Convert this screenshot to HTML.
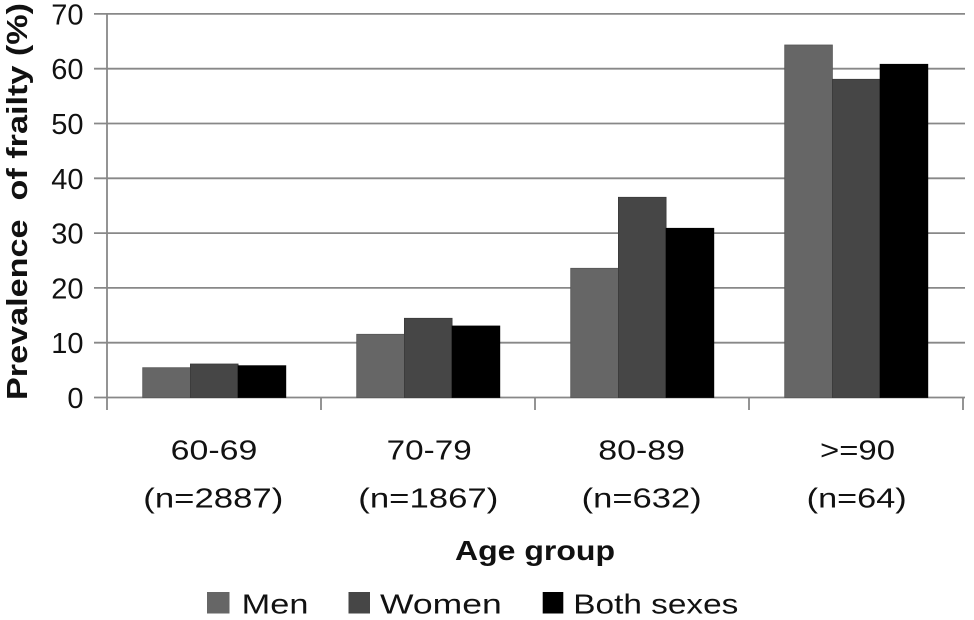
<!DOCTYPE html>
<html>
<head>
<meta charset="utf-8">
<style>
  html,body{margin:0;padding:0;background:#fff;}
  svg{display:block;}
  text{font-family:"Liberation Sans",sans-serif;fill:#111;}
</style>
</head>
<body>
<svg width="974" height="620" viewBox="0 0 974 620" xmlns="http://www.w3.org/2000/svg">
  <rect x="0" y="0" width="974" height="620" fill="#fff"/>
  <!-- gridlines -->
  <g stroke="#888" stroke-width="1.8">
    <line x1="94" y1="13.9" x2="965" y2="13.9"/>
    <line x1="94" y1="68.7" x2="965" y2="68.7"/>
    <line x1="94" y1="123.5" x2="965" y2="123.5"/>
    <line x1="94" y1="178.3" x2="965" y2="178.3"/>
    <line x1="94" y1="233.1" x2="965" y2="233.1"/>
    <line x1="94" y1="287.9" x2="965" y2="287.9"/>
    <line x1="94" y1="342.7" x2="965" y2="342.7"/>
    <line x1="94" y1="397.5" x2="965" y2="397.5"/>
    <!-- y axis -->
    <line x1="107" y1="13.9" x2="107" y2="410"/>
    <!-- x ticks -->
    <line x1="321" y1="397.5" x2="321" y2="410"/>
    <line x1="535" y1="397.5" x2="535" y2="410"/>
    <line x1="749" y1="397.5" x2="749" y2="410"/>
    <line x1="963" y1="397.5" x2="963" y2="410"/>
  </g>
  <!-- bars -->
  <g stroke-width="0.8">
    <rect x="142.7" y="367.7" width="47.7" height="29.8" fill="#666" stroke="#555"/>
    <rect x="190.4" y="364" width="47.7" height="33.5" fill="#464646" stroke="#3a3a3a"/>
    <rect x="238.1" y="365.7" width="47.7" height="31.8" fill="#000" stroke="#000"/>

    <rect x="356.7" y="334.3" width="47.7" height="63.2" fill="#666" stroke="#555"/>
    <rect x="404.4" y="318.3" width="47.7" height="79.2" fill="#464646" stroke="#3a3a3a"/>
    <rect x="452.1" y="326" width="47.7" height="71.5" fill="#000" stroke="#000"/>

    <rect x="570.7" y="268.3" width="47.7" height="129.2" fill="#666" stroke="#555"/>
    <rect x="618.4" y="197.3" width="47.7" height="200.2" fill="#464646" stroke="#3a3a3a"/>
    <rect x="666.1" y="228.3" width="47.7" height="169.2" fill="#000" stroke="#000"/>

    <rect x="784.7" y="45" width="47.7" height="352.5" fill="#666" stroke="#555"/>
    <rect x="832.4" y="79.3" width="47.7" height="318.2" fill="#464646" stroke="#3a3a3a"/>
    <rect x="880.1" y="64.3" width="47.7" height="333.2" fill="#000" stroke="#000"/>
  </g>
  <!-- y tick labels -->
  <g font-size="29" text-anchor="end">
    <text x="83.5" y="24.4">70</text>
    <text x="83.5" y="79.2">60</text>
    <text x="83.5" y="134">50</text>
    <text x="83.5" y="188.8">40</text>
    <text x="83.5" y="243.6">30</text>
    <text x="83.5" y="298.4">20</text>
    <text x="83.5" y="353.2">10</text>
    <text x="83.5" y="408">0</text>
  </g>
  <!-- y title -->
  <text transform="translate(27,201.5) rotate(-90)" text-anchor="middle" font-size="29" font-weight="bold" textLength="397" lengthAdjust="spacingAndGlyphs" xml:space="preserve">Prevalence  of frailty (%)</text>
  <!-- x labels -->
  <g font-size="28">
    <text x="170.7" y="459.5" textLength="86.6" lengthAdjust="spacingAndGlyphs">60-69</text>
    <text x="143.3" y="507.5" textLength="140" lengthAdjust="spacingAndGlyphs">(n=2887)</text>
    <text x="386.7" y="459.5" textLength="85" lengthAdjust="spacingAndGlyphs">70-79</text>
    <text x="358.3" y="507.5" textLength="140" lengthAdjust="spacingAndGlyphs">(n=1867)</text>
    <text x="598.3" y="459.5" textLength="86.7" lengthAdjust="spacingAndGlyphs">80-89</text>
    <text x="581.7" y="507.5" textLength="120" lengthAdjust="spacingAndGlyphs">(n=632)</text>
    <text x="820" y="459.5" textLength="75" lengthAdjust="spacingAndGlyphs">&gt;=90</text>
    <text x="806.7" y="507.5" textLength="100" lengthAdjust="spacingAndGlyphs">(n=64)</text>
  </g>
  <!-- x title -->
  <text x="455" y="560" font-size="28" font-weight="bold" textLength="160" lengthAdjust="spacingAndGlyphs">Age group</text>
  <!-- legend -->
  <rect x="207" y="592" width="22.5" height="21.5" fill="#666"/>
  <text x="241.7" y="613.3" font-size="28" textLength="66.7" lengthAdjust="spacingAndGlyphs">Men</text>
  <rect x="348.5" y="592" width="21.5" height="21.5" fill="#464646"/>
  <text x="380" y="613.3" font-size="28" textLength="121.7" lengthAdjust="spacingAndGlyphs">Women</text>
  <rect x="542.7" y="592" width="20.6" height="21.5" fill="#000"/>
  <text x="573.3" y="613.3" font-size="28" textLength="165" lengthAdjust="spacingAndGlyphs">Both sexes</text>
</svg>
</body>
</html>
